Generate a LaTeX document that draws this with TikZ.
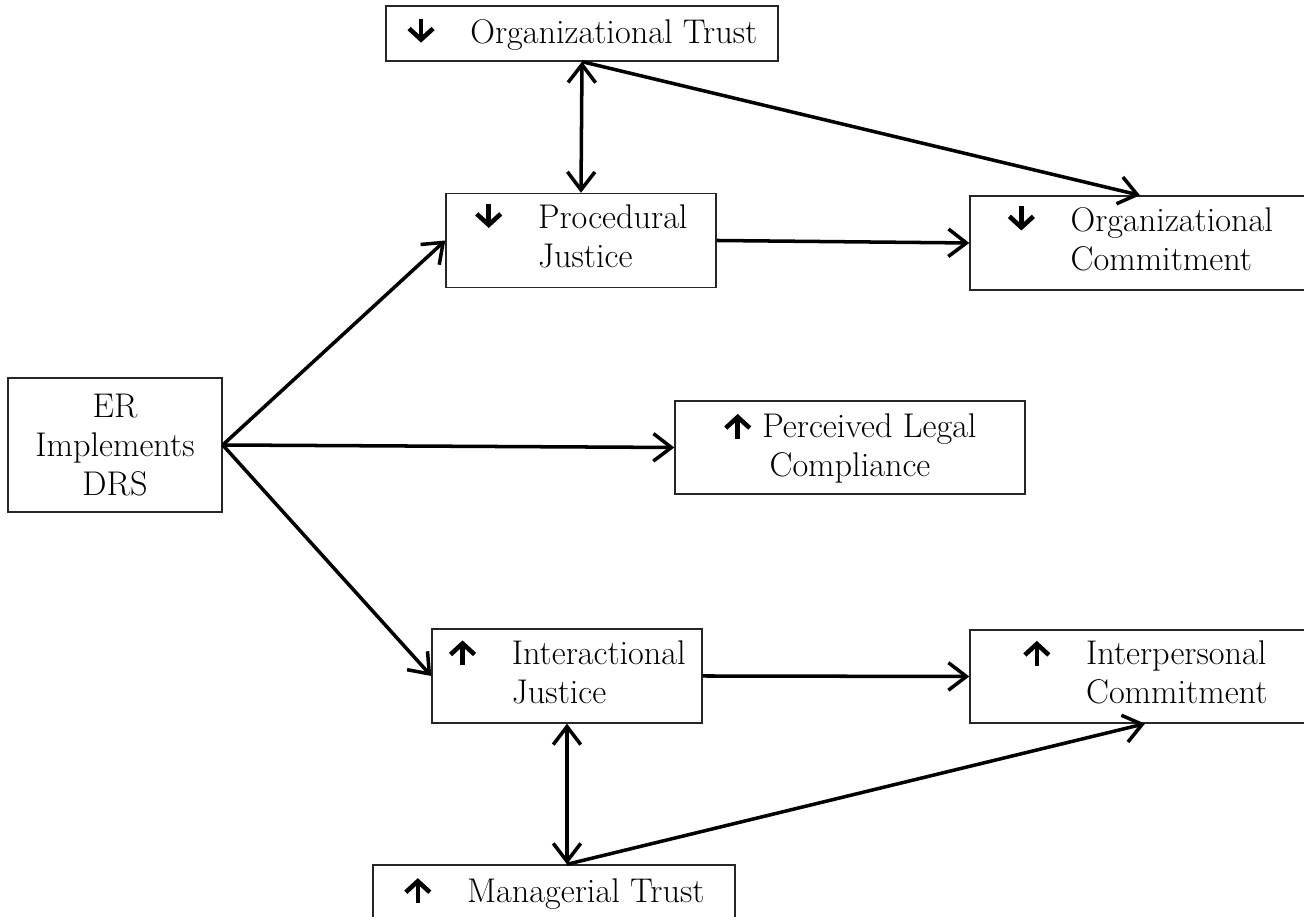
\documentclass[tikz,border=0pt]{standalone}
\usepackage{fontspec}
\usepackage{tikz}
\usetikzlibrary{arrows.meta}
\tikzset{signarr/.style={line width=2.6pt, -{Straight Barb[length=2.2mm,width=4.8mm,line width=2.6pt]}}}
\newcommand{\dnsign}{\tikz[baseline=0pt]\draw[signarr] (0,0.5) -- (0,0.02);}
\newcommand{\upsign}{\tikz[baseline=0pt]\draw[signarr] (0,-0.02) -- (0,0.48);}
\newcommand{\dnarr}{\dnsign\hspace{0.7cm}}
\newcommand{\uparr}{\upsign\hspace{0.7cm}}
\newcommand{\twolines}[2]{\begin{tabular}[t]{@{}l@{}}#1\\#2\end{tabular}}

\begin{document}
\begin{tikzpicture}[
  font=\fontsize{19.5}{22}\selectfont,
  box/.style={draw=black!85, line width=0.8pt, inner sep=0pt, minimum height=1.88cm},
  barb/.tip={Straight Barb[length=3.6mm,width=5.5mm,line width=2pt]},
  link/.style={line width=2pt, -barb},
  both/.style={line width=2pt, barb-barb}
]
\useasboundingbox (0,0) rectangle (26.08,18.34);

% Boxes
\node[box, minimum width=7.84cm, minimum height=1.1cm] (orgtrust) at (11.64,17.67) {\dnarr Organizational Trust};
\node[box, minimum width=5.4cm] (procjust) at (11.62,13.53) {\dnarr\twolines{Procedural}{Justice}};
\node[box, minimum width=6.8cm] (orgcomm) at (22.8,13.48) {\dnarr\twolines{Organizational}{Commitment}};
\node[box, minimum width=4.28cm, minimum height=2.68cm, align=center] (er) at (2.3,9.44) {ER\\Implements\\DRS};
\node[box, minimum width=7.0cm, minimum height=1.86cm, align=center] (legal) at (17.0,9.39) {\upsign\ Perceived Legal\\Compliance};
\node[box, minimum width=5.4cm] (interjust) at (11.34,4.82) {\uparr\twolines{Interactional}{Justice}};
\node[box, minimum width=7.0cm, minimum height=1.86cm] (intercomm) at (22.9,4.81) {\uparr\twolines{Interpersonal}{Commitment}};
\node[box, minimum width=7.24cm, minimum height=1.1cm] (mgrtrust) at (11.08,0.49) {\uparr Managerial Trust};
\coordinate (mgrtop) at (interjust.south |- mgrtrust.north);

% Links
\draw[link] (er.east) -- (procjust.west);
\draw[link] (er.east) -- (legal.west);
\draw[link] (er.east) -- (interjust.west);
\draw[link] (procjust.east) -- (orgcomm.west);
\draw[link] (interjust.east) -- (intercomm.west);
\draw[both] (orgtrust.south) -- (procjust.north);
\draw[link] (orgtrust.south) -- (orgcomm.north);
\draw[both] (interjust.south) -- (mgrtop);
\draw[link] (mgrtop) -- (intercomm.south);
\end{tikzpicture}
\end{document}
